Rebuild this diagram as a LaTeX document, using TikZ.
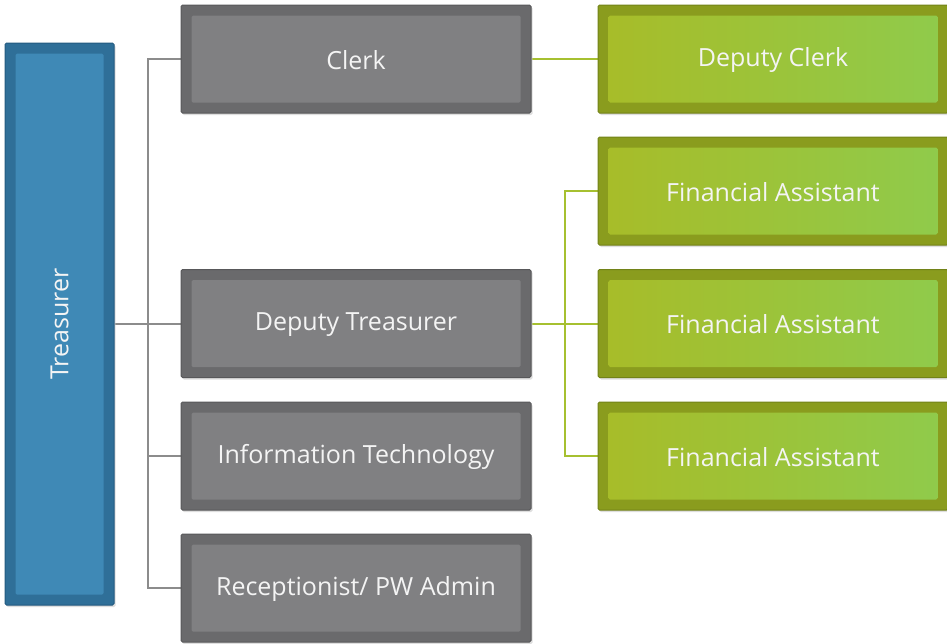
\documentclass[tikz,border=0pt]{standalone}
\usepackage{fontspec}
\setmainfont{Open Sans}
\usetikzlibrary{shadows,backgrounds}
\definecolor{grayout}{HTML}{6A6A6C}
\definecolor{grayin}{HTML}{808082}
\definecolor{grayedge}{HTML}{58585A}
\definecolor{blueout}{HTML}{2F6F98}
\definecolor{bluein}{HTML}{3F89B6}
\definecolor{blueedge}{HTML}{235A80}
\definecolor{greenout}{HTML}{8A9C1E}
\definecolor{greenedge}{HTML}{728218}
\definecolor{greenL}{HTML}{A8BC28}
\definecolor{greenR}{HTML}{8FCB4C}
\definecolor{grayline}{HTML}{8C8C8C}
\definecolor{greenline}{HTML}{A6C030}
\definecolor{txt}{HTML}{F4F4F4}
\definecolor{shadowc}{HTML}{C8C8C8}
\begin{document}
\begin{tikzpicture}[x=1pt,y=-1pt,
  box/.style={rectangle, rounded corners=1.5pt, line width=1pt, inner sep=0pt,
     drop shadow={shadow xshift=1.5pt, shadow yshift=-2pt, fill=shadowc, opacity=0.6}},
  graybox/.style={box, minimum width=350pt, minimum height=108pt, fill=grayout, draw=grayedge,
     path picture={\fill[grayin] ([shift={(10.5pt,-10.5pt)}]path picture bounding box.north west) rectangle ([shift={(-10.5pt,10.5pt)}]path picture bounding box.south east);}},
  greenbox/.style={box, minimum width=350pt, minimum height=108pt, fill=greenout, draw=greenedge,
     path picture={\shade[left color=greenL, right color=greenR] ([shift={(10.5pt,-10.5pt)}]path picture bounding box.north west) rectangle ([shift={(-10.5pt,10.5pt)}]path picture bounding box.south east);}},
  bluebox/.style={box, minimum width=109pt, minimum height=562pt, fill=blueout, draw=blueedge,
     path picture={\fill[bluein] ([shift={(10.5pt,-10.5pt)}]path picture bounding box.north west) rectangle ([shift={(-10.5pt,10.5pt)}]path picture bounding box.south east);}},
  lbl/.style={text=txt, font=\fontsize{25}{30}\selectfont},
  gline/.style={draw=grayline, line width=2pt},
  lline/.style={draw=greenline, line width=2pt}
]
\useasboundingbox (0,0) rectangle (947,643);
\coordinate (gbus) at (148,0);
\coordinate (lbus) at (565,0);
\node[bluebox] (tre) at (59.5,324) {};
\node[graybox] (clerk) at (356,59) {};
\node[graybox] (dtre) at (356,323.5) {};
\node[graybox] (it) at (356,456) {};
\node[graybox] (rec) at (356,588) {};
\node[greenbox] (dclerk) at (773,59) {};
\node[greenbox] (fa1) at (773,191) {};
\node[greenbox] (fa2) at (773,323.5) {};
\node[greenbox] (fa3) at (773,456) {};
\begin{scope}[on background layer]
\path[gline] (tre.east |- dtre.west) -- (dtre.west);
\path[gline] (clerk.west) -| (gbus |- rec.west) -- (rec.west);
\path[gline] (gbus |- it.west) -- (it.west);
\path[lline] (clerk.east) -- (dclerk.west);
\path[lline] (dtre.east) -- (fa2.west);
\path[lline] (fa1.west) -| (lbus |- fa3.west) -- (fa3.west);
\end{scope}
\node[lbl, rotate=90] at (tre.center) {Treasurer};
\node[lbl] at ([yshift=-1pt]clerk.center) {Clerk};
\node[lbl] at ([yshift=-1pt]dtre.center) {Deputy Treasurer};
\node[lbl] at ([yshift=-1pt]it.center) {Information Technology};
\node[lbl] at ([yshift=-1pt]rec.center) {Receptionist/ PW Admin};
\node[lbl] at ([yshift=-1pt]dclerk.center) {Deputy Clerk};
\node[lbl] at ([yshift=-1pt]fa1.center) {Financial Assistant};
\node[lbl] at ([yshift=-1pt]fa2.center) {Financial Assistant};
\node[lbl] at ([yshift=-1pt]fa3.center) {Financial Assistant};
\end{tikzpicture}
\end{document}
